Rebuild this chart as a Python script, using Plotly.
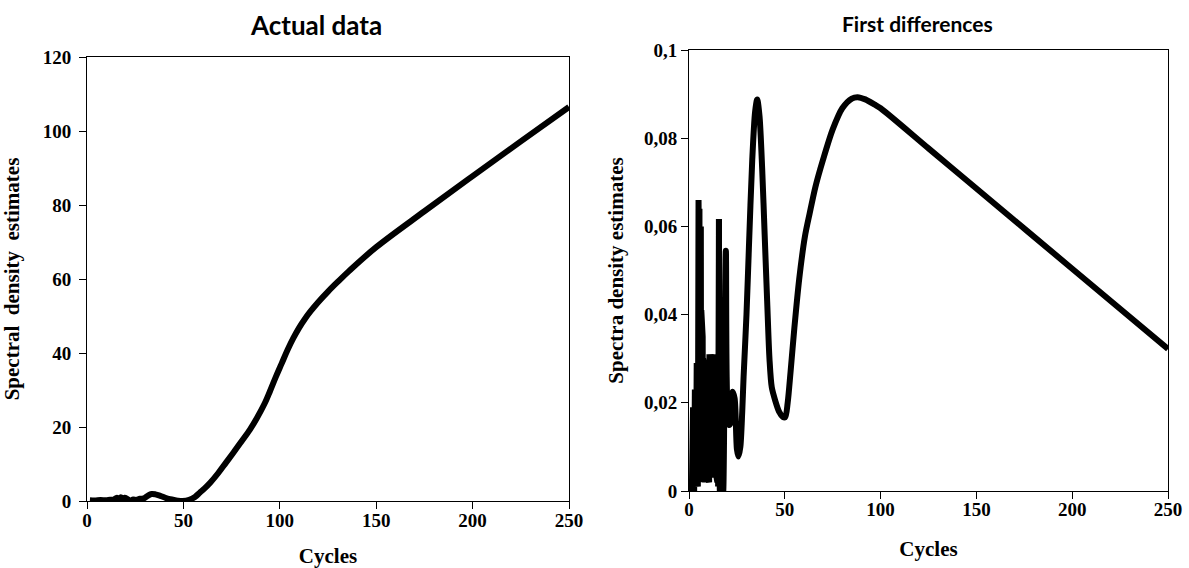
import plotly.graph_objects as go

# Periodogram of the level series
level_cycles = [1.5, 4, 7, 10, 12, 14, 15.5, 16.5, 17.5, 18.5, 19.5, 21, 22.5, 24, 25.5,
                27.5, 29.5, 31.5, 33.5, 35.5, 38, 41, 44, 47, 49.5, 53, 56, 58.6, 61,
                64, 68, 72, 76, 80, 84.5, 88, 92, 95, 98, 101, 104, 107, 110, 113, 116,
                120, 125, 130, 136, 150, 175, 200, 225, 250]
level_values = [0.2, 0.15, 0.25, 0.2, 0.35, 0.4, 0.9, 0.4, 1.0, 0.5, 0.9, 0.5, 0.1, 0.4, 0.3,
                0.6, 0.7, 1.4, 1.9, 1.8, 1.4, 0.8, 0.4, 0.1, 0.0, 0.3, 1.1, 2.3, 3.4,
                5.0, 7.5, 10.3, 13.1, 16.0, 19.3, 22.3, 26.2, 29.8, 33.6, 37.2, 40.8, 44.0, 46.8,
                49.2, 51.3, 53.8, 56.6, 59.2, 62.2, 68.6, 78.3, 87.8, 97.2, 106.5]

# Periodogram of the first differences: short cycles (dense, jagged part)
short_cycles = [1.50, 1.62, 1.74, 1.86, 1.98, 2.10, 2.22, 2.34, 2.46, 2.58, 2.70, 2.82,
                2.94, 3.06, 3.18, 3.30, 3.42, 3.54, 3.66, 3.78, 3.90, 4.02, 4.14, 4.26,
                4.38, 4.50, 4.62, 4.74, 4.86, 4.98, 5.10, 5.22, 5.34, 5.46, 5.58, 5.70,
                5.82, 5.94, 6.06, 6.18, 6.30, 6.42, 6.54, 6.66, 6.78, 6.90, 7.02, 7.14,
                7.26, 7.38, 7.50, 7.65, 7.80, 7.95, 8.10, 8.25, 8.40, 8.55, 8.70, 8.85,
                9.00, 9.15, 9.30, 9.45, 9.60, 9.75, 9.90, 10.05, 10.20, 10.35, 10.50,
                10.65, 10.80, 10.95, 11.10, 11.25, 11.40, 11.55, 11.70, 11.85, 12.00,
                12.20, 12.40, 12.60, 12.80, 13.00, 13.20, 13.40, 13.60, 13.80, 14.00,
                14.20, 14.40, 14.60, 14.80, 15.00, 15.20, 15.40, 15.63]
short_values = [0.000, 0.018, 0.001, 0.017, 0.000, 0.019, 0.002, 0.018, 0.001, 0.019,
                0.000, 0.022, 0.002, 0.023, 0.001, 0.021, 0.002, 0.023, 0.001, 0.027,
                0.002, 0.029, 0.003, 0.028, 0.002, 0.029, 0.001, 0.045, 0.003, 0.066,
                0.002, 0.052, 0.003, 0.064, 0.002, 0.048, 0.004, 0.058, 0.003, 0.060,
                0.002, 0.041, 0.003, 0.035, 0.002, 0.033, 0.003, 0.035, 0.002, 0.030,
                0.003, 0.029, 0.002, 0.028, 0.003, 0.029, 0.002, 0.027, 0.003, 0.029,
                0.002, 0.028, 0.003, 0.029, 0.002, 0.027, 0.003, 0.029, 0.003, 0.030,
                0.002, 0.031, 0.003, 0.029, 0.003, 0.031, 0.004, 0.030, 0.003, 0.031,
                0.003, 0.029, 0.004, 0.031, 0.003, 0.030, 0.004, 0.031, 0.003, 0.029,
                0.004, 0.031, 0.003, 0.030, 0.002, 0.031, 0.001, 0.035, 0.0617]

# Periodogram of the first differences: longer cycles (smooth part)
long_cycles = [15.63, 16.10, 16.67, 17.86, 19.23, 20.83, 21.8, 22.73, 23.8, 25.0, 25.8,
               26.8, 27.78, 28.5, 30.0, 31.25, 33.0, 34.5, 35.6, 36.8, 38.2, 39.5, 40.8,
               42.0, 43.2, 45.0, 47.0, 49.0, 50.2, 51.5, 53.0, 55.0, 57.5, 60.5, 63.0,
               66.0, 70.0, 75.0, 80.0, 85.0, 88.0, 92.0, 97.0, 100.0, 125.0, 150.0,
               200.0, 250.0]
long_values = [0.0617, 0.000, 0.020, 0.000, 0.0545, 0.0150, 0.0155, 0.0225, 0.021, 0.0095,
               0.0078, 0.010, 0.018, 0.026, 0.040, 0.055, 0.075, 0.086, 0.0888, 0.085,
               0.073, 0.058, 0.043, 0.030, 0.0235, 0.0205, 0.018, 0.0168, 0.0167, 0.020,
               0.027, 0.037, 0.048, 0.0577, 0.063, 0.069, 0.0752, 0.082, 0.0868, 0.0890,
               0.0893, 0.0888, 0.0876, 0.0868, 0.0777, 0.0686, 0.0504, 0.0322]

x_ticks = [0, 50, 100, 150, 200, 250]
level_ticks = [0, 20, 40, 60, 80, 100, 120]
diff_ticks = [0, 0.02, 0.04, 0.06, 0.08, 0.1]
diff_tick_text = ["0", "0,02", "0,04", "0,06", "0,08", "0,1"]

SERIF = "Liberation Serif"
TITLE_FONT = "Lato"
W, H = 1189, 568

fig = go.Figure()
fig.add_trace(go.Scatter(
    x=level_cycles, y=level_values, mode="lines",
    line=dict(color="black", width=6, shape="spline", smoothing=1.0),
    xaxis="x", yaxis="y", showlegend=False, hoverinfo="skip"))
fig.add_trace(go.Scatter(
    x=short_cycles, y=short_values, mode="lines",
    line=dict(color="black", width=6, shape="linear"),
    xaxis="x2", yaxis="y2", showlegend=False, hoverinfo="skip"))
fig.add_trace(go.Scatter(
    x=long_cycles, y=long_values, mode="lines",
    line=dict(color="black", width=6, shape="spline", smoothing=0.8),
    xaxis="x2", yaxis="y2", showlegend=False, hoverinfo="skip"))

tick_font = dict(family=SERIF, size=19, color="black", weight="bold")
axis_title_font = dict(family=SERIF, size=21, color="black", weight="bold")

common = dict(showline=True, linecolor="black", linewidth=1, mirror=True,
              ticks="outside", ticklen=7, tickcolor="black", tickwidth=1,
              showgrid=False, zeroline=False, tickfont=tick_font, automargin=False)

fig.update_layout(
    template="none",
    width=W, height=H,
    margin=dict(l=0, r=0, t=0, b=0),
    paper_bgcolor="white", plot_bgcolor="white",
    showlegend=False,
    xaxis=dict(domain=[87 / W, 569 / W], anchor="y", range=[0, 250],
               tickvals=x_ticks, ticklabelstandoff=-5,
               title=dict(text="Cycles", font=axis_title_font, standoff=20),
               **common),
    yaxis=dict(domain=[(H - 501) / H, (H - 57) / H], anchor="x", range=[0, 120],
               tickvals=level_ticks, ticklabelstandoff=4,
               title=dict(text="Spectral  density  estimates", font=axis_title_font, standoff=18),
               **common),
    xaxis2=dict(domain=[689 / W, 1168 / W], anchor="y2", range=[0, 250],
                tickvals=x_ticks, ticklabelstandoff=-6,
                title=dict(text="Cycles", font=axis_title_font, standoff=22),
                **common),
    yaxis2=dict(domain=[(H - 491) / H, (H - 50) / H], anchor="x2", range=[0, 0.1],
                tickvals=diff_ticks, ticktext=diff_tick_text,
                title=dict(text="Spectra density estimates", font=axis_title_font, standoff=14),
                **common),
    annotations=[
        dict(text="Actual data", x=316 / W, y=1 - 25 / H, xref="paper", yref="paper",
             showarrow=False, xanchor="center", yanchor="middle",
             font=dict(family=TITLE_FONT, size=26, color="black", weight="bold")),
        dict(text="First differences", x=918 / W, y=1 - 23 / H, xref="paper", yref="paper",
             showarrow=False, xanchor="center", yanchor="middle",
             font=dict(family=TITLE_FONT, size=21, color="black", weight="bold")),
    ],
)

fig.write_html("out.html")
